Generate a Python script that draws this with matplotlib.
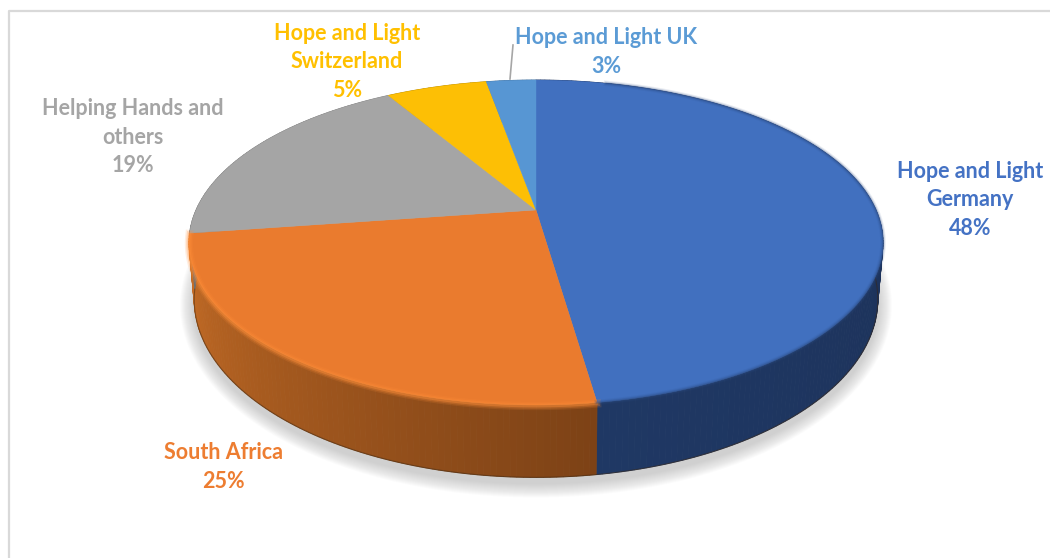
import numpy as np
import matplotlib
matplotlib.use('Agg')
from matplotlib import pyplot as plt
from matplotlib.colors import to_rgb

names = ['Hope and Light\nGermany', 'South Africa', 'Helping Hands and\nothers',
         'Hope and Light\nSwitzerland', 'Hope and Light UK']
percents = [48, 25, 19, 5, 3]
# unrounded shares
shares = [47.7, 25.0, 18.8, 5.7, 2.8]
colors = ['#4170bf', '#ea7b2e', '#a5a5a5', '#fdbf05', '#5796d3']
wall_start = ['#1a2b4e', '#7d4216', '#6e6e6e', '#a87f04', '#3a648c']
wall_end = ['#1f3864', '#c66d26', '#7a7a7a', '#a87f04', '#3a648c']
text_colors = ['#4472c4', '#ed7d31', '#a5a5a5', '#ffc000', '#5b9bd5']
label_x = [970, 223, 133, 347, 606]
label_y = [200, 467, 137, 62, 52]

# pie centre and perspective, pixels of the figure
cx, cy = 536, 210
persp = 0.2
ax_x, ax_y = 340, 156


def top(ang):
    u, v = np.sin(ang), np.cos(ang)
    w = 1 + persp * v
    return cx + ax_x * u / w, cy - ax_y * v / w


def bottom(ang):
    x, y = top(ang)
    return cx + (x - cx) * 0.985, 300 + (y - 243) * 1.095


fig = plt.figure(figsize=(10.5, 5.58), dpi=100)
ax = fig.add_axes([0, 0, 1, 1])
ax.set_xlim(0, 1050)
ax.set_ylim(558, 0)
ax.axis('off')

ax.plot([9, 9, 1050], [558, 11, 11], color='#d9d9d9', lw=1.6, zorder=1)

edges = np.cumsum([0] + shares) / sum(shares) * 2 * np.pi
full = np.linspace(0, 2 * np.pi, 360)

# soft shadow under the pie
bx, by = bottom(full)
for grow in np.linspace(14, 1, 14):
    sx = cx + (bx - cx) * (1 + grow / 340)
    sy = 306 + (by - 300) * (1 + grow / 176)
    ax.fill(sx, sy, color='#808080', alpha=0.028, lw=0, zorder=2)

# side wall, shaded piece by piece
for i in range(len(shares)):
    ang = np.linspace(edges[i], edges[i + 1], max(percents[i] * 4, 8))
    c0 = np.array(to_rgb(wall_start[i]))
    c1 = np.array(to_rgb(wall_end[i]))
    for j in range(len(ang) - 1):
        pair = ang[j:j + 2]
        tx, ty = top(pair)
        bx, by = bottom(pair)
        t = j / (len(ang) - 2)
        shade = c0 + (c1 - c0) * t
        ax.fill([tx[0], tx[1], bx[1], bx[0]], [ty[0], ty[1], by[1], by[0]],
                color=shade, lw=0.6, ec=shade, zorder=3)

# dark line at the foot of the wall
ang = np.linspace(edges[0], edges[2], 200)
bx, by = bottom(ang)
ax.plot(bx, by, color='#3a2510', lw=0.8, alpha=0.5, zorder=4)

# top face
for i in range(len(shares)):
    ang = np.linspace(edges[i], edges[i + 1], max(percents[i] * 4, 8))
    tx, ty = top(ang)
    ax.fill(np.r_[cx, tx], np.r_[cy, ty], color=colors[i], lw=0.3, ec=colors[i], zorder=5)

# bevel along the front rim
ang = np.linspace(edges[1], edges[2], 120)
tx, ty = top(ang)
for lw, a in [(6, 0.15), (4, 0.25), (2, 0.4)]:
    ax.plot(tx, ty + 1, color='#ff8f3a', lw=lw, alpha=a, zorder=6)
ang = np.linspace(edges[0] + 0.25, edges[1], 160)
tx, ty = top(ang)
for lw, a in [(4, 0.1), (2.5, 0.2), (1.2, 0.35)]:
    ax.plot(tx, ty, color='#2d4d85', lw=lw, alpha=a, zorder=6)

# leader to the small slice
ax.plot([513, 510], [45, 79], color='#a6a6a6', lw=1.2, zorder=6)

for i in range(len(shares)):
    ax.text(label_x[i], label_y[i], '%s\n%d%%' % (names[i], percents[i]), color=text_colors[i],
            family=['Lato', 'DejaVu Sans'], fontweight='bold', fontsize=15.5, ha='center', va='center',
            linespacing=1.42, zorder=7)

fig.savefig('out.png', dpi=100)
